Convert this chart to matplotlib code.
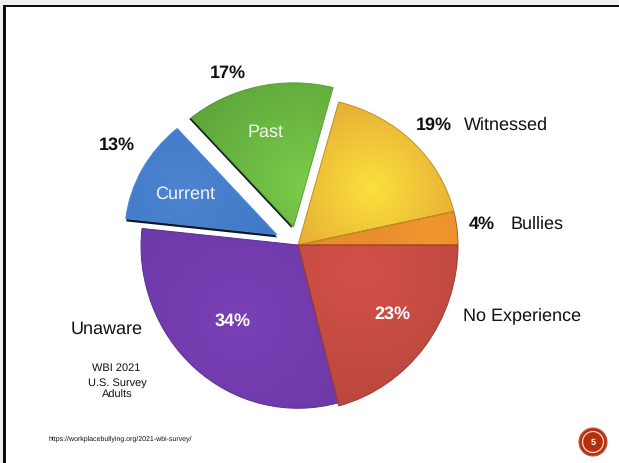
import numpy as np
import matplotlib
matplotlib.use("Agg")
import matplotlib.pyplot as plt
from matplotlib.colors import to_rgb
from matplotlib.patches import Circle, Rectangle, Wedge

plt.rcParams["font.family"] = ["Liberation Sans", "DejaVu Sans"]
plt.rcParams["text.hinting"] = "no_hinting"
plt.rcParams["text.hinting_factor"] = 1

# Survey shares as published (they add up to 110, the pie normalises them)
categories = ["Bullies", "Witnessed", "Past", "Current", "Unaware", "No Experience"]
shares = [4, 19, 17, 13, 34, 23]
# Pull-out distance per slice, in pie data units (the pie radius is 160)
pull_out = [0, 0, 20, 24, 0, 0]
radii = [160, 160, 156, 152, 157, 160]

# Shading per slice: inner colour, outer colour, focus pixel, falloff in pixels
inner = ["#f2962f", "#fbe13c", "#7acb4a", "#4c84d2", "#7a3fb6", "#d4514a"]
outer = ["#e98c2d", "#e6ac36", "#5ea73b", "#4077c4", "#6c38a6", "#b9473d"]
focus = [(430, 232), (372, 188), (305, 185), (185, 190), (240, 320), (360, 270)]
falloff = [60, 95, 125, 110, 150, 140]
rims = ["#9a6614", "#c0901c", "#5c9f38", "#4a88d8", "#5a3090", "#a03a26"]

W, H = 619, 463
CX, CY = 298, 245


def squash(y):
    # The disc is tilted: its far half looks flatter than its near half
    y = np.asarray(y, dtype=float)
    return np.where(y > 0, y * 0.924, y * 1.04)


def unsquash(v):
    v = np.asarray(v, dtype=float)
    return np.where(v > 0, v / 0.924, v / 1.04)


fig = plt.figure(figsize=(W / 100, H / 100), dpi=100, facecolor="white")

# Pixel-space layer holding the shading images and the frame
base = fig.add_axes([0, 0, 1, 1], zorder=0)
base.set_xlim(0, W)
base.set_ylim(H, 0)
base.axis("off")

pie_ax = fig.add_axes([0, 0, 1, 1], zorder=1)
pie_ax.patch.set_alpha(0)
wedges, _ = pie_ax.pie(shares, explode=pull_out, startangle=0, counterclock=True,
                       radius=160, center=(0, 0), colors=inner)
pie_ax.set_aspect("auto")
pie_ax.set_yscale("function", functions=(squash, unsquash))
pie_ax.set_xlim(-CX, W - CX)
pie_ax.set_ylim(float(unsquash(CY - H)), float(unsquash(CY)))
pie_ax.axis("off")

for i, w in enumerate(wedges):
    w.set_radius(radii[i])

# Dark side walls under the two pulled-out slices
shadow_shift = {2: (-2.0, -1.0), 3: (0.5, -3.0)}
for i, (dx, dy) in shadow_shift.items():
    w = wedges[i]
    cx, cy = w.center
    base.add_patch(Wedge((cx + dx, cy + dy), radii[i], w.theta1, w.theta2,
                         facecolor="#101820", edgecolor="none",
                         transform=pie_ax.transData, zorder=1))

yy, xx = np.mgrid[0:H, 0:W]
for i, w in enumerate(wedges):
    t = np.clip(np.hypot(xx + 0.5 - focus[i][0], yy + 0.5 - focus[i][1]) / falloff[i], 0, 1)
    rgb = np.array(to_rgb(inner[i])) * (1 - t[..., None]) + np.array(to_rgb(outer[i])) * t[..., None]
    im = base.imshow(rgb, extent=(0, W, H, 0), aspect="auto", zorder=2, interpolation="bilinear")
    im.set_clip_path(w)
    w.set_facecolor("none")
    w.set_edgecolor(rims[i])
    w.set_linewidth(0.7)
base.set_xlim(0, W)
base.set_ylim(H, 0)

# Slide border: pale margin, then a heavy black rule along the top and left
base.add_patch(Rectangle((0, 0), W, 4.5, facecolor="#efefef", edgecolor="none", zorder=3))
base.add_patch(Rectangle((0, 0), 3.2, H, facecolor="#efefef", edgecolor="none", zorder=3))
base.add_patch(Rectangle((3.2, 4.5), W, 2.6, facecolor="#0c0c0c", edgecolor="none", zorder=4))
base.add_patch(Rectangle((3.2, 4.5), 2.4, H, facecolor="#0c0c0c", edgecolor="none", zorder=4))

# Text is placed on a top layer so it sits above the slices
top = fig.add_axes([0, 0, 1, 1], zorder=2)
top.set_xlim(0, W)
top.set_ylim(H, 0)
top.axis("off")
top.patch.set_alpha(0)


def label(x, y, s, size=13.2, bold=False, color="#111111", ha="center"):
    top.text(x, y, s, fontsize=size, fontweight="bold" if bold else "normal",
             color=color, ha=ha, va="center")


pct = {c: f"{v}%" for c, v in zip(categories, shares)}
label(228, 73.5, pct["Past"], bold=True)
label(117, 145.5, pct["Current"], bold=True)
label(434, 125.5, pct["Witnessed"], bold=True)
label(482, 224.5, pct["Bullies"], bold=True)
label(392, 314.5, pct["No Experience"], bold=True, color="white")
label(233, 321.5, pct["Unaware"], bold=True, color="white")

label(506, 125.5, "Witnessed")
label(537, 224.5, "Bullies")
label(522, 315.5, "No Experience")
label(107, 329.5, "Unaware")
label(266, 132.5, "Past", color="#f4f8ee")
label(185, 194.5, "Current", color="#f2f6fc")

label(116, 368.5, "WBI 2021", size=7.8)
label(117, 382.5, "U.S. Survey", size=7.8)
label(117, 395.5, "Adults", size=7.8)
label(48.5, 438.5, "https://workplacebullying.org/2021-wbi-survey/", size=5.1, ha="left")

# Slide number badge
top.add_patch(Circle((593, 442), 14, facecolor="#b5300f", edgecolor="#c9563a", linewidth=0.8))
top.add_patch(Circle((593, 442), 10.5, facecolor="none", edgecolor="#f4d9d0", linewidth=0.9))
label(593.5, 442.5, "5", size=6.5, bold=True, color="white")

fig.savefig("out.png", dpi=100)
